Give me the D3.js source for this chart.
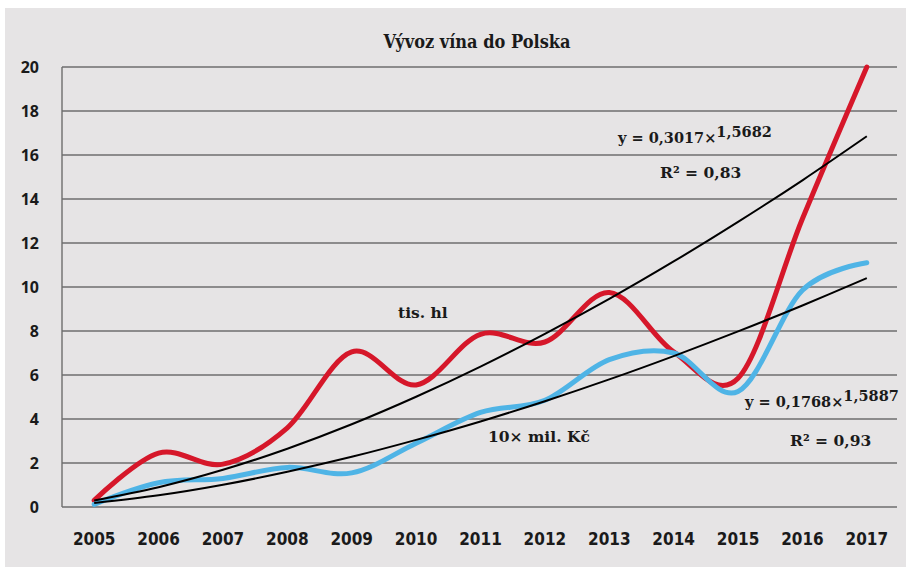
<!DOCTYPE html>
<html>
<head>
<meta charset="utf-8">
<script src="https://cdn.jsdelivr.net/npm/d3@7/dist/d3.min.js"></script>
<style>
  html, body { margin: 0; padding: 0; background: #ffffff; }
  svg { display: block; }
</style>
</head>
<body>
<svg id="chart" width="912" height="567"></svg>
<script>
// ---- data ----
const years = ["2005","2006","2007","2008","2009","2010","2011","2012","2013","2014","2015","2016","2017"];
const hlValues  = [0.3, 2.45, 1.95, 3.6, 7.05, 5.55, 7.85, 7.5, 9.75, 7.05, 5.85, 13.1, 20.0];   // tis. hl
const kcValues  = [0.12, 1.1, 1.3, 1.8, 1.55, 2.9, 4.3, 4.85, 6.7, 7.0, 5.25, 9.85, 11.1];      // 10× mil. Kč
const hlTrend   = [0.30, 0.90, 1.69, 2.65, 3.76, 5.01, 6.38, 7.87, 9.46, 11.16, 12.96, 14.85, 16.85];
const kcTrend   = [0.18, 0.53, 1.01, 1.60, 2.28, 3.05, 3.89, 4.81, 5.80, 6.86, 7.98, 9.16, 10.40];
const yTicks    = [0, 2, 4, 6, 8, 10, 12, 14, 16, 18, 20];
const title     = "Vývoz vína do Polska";

// ---- layout ----
const svg = d3.select("#chart");
const plot = { left: 62, right: 899, top: 67, bottom: 507 };

svg.append("rect").attr("x", 5).attr("y", 8).attr("width", 901).attr("height", 559)
  .attr("fill", "#e6e4e5");

const x = d3.scaleBand().domain(years).range([plot.left, plot.right]);
const y = d3.scaleLinear().domain([0, 20]).range([plot.bottom, plot.top]);
const cx = d => x(d) + x.bandwidth() / 2;

// gridlines
svg.append("g").selectAll("line").data(yTicks.filter(t => t > 0)).join("line")
  .attr("x1", plot.left).attr("x2", plot.right - 2)
  .attr("y1", d => y(d)).attr("y2", d => y(d))
  .attr("stroke", "#6e6e6e").attr("stroke-width", 1.4);

// axes lines
svg.append("line").attr("x1", plot.left).attr("x2", plot.left)
  .attr("y1", plot.top).attr("y2", plot.bottom).attr("stroke", "#6e6e6e").attr("stroke-width", 1.4);
svg.append("line").attr("x1", plot.left).attr("x2", plot.right - 2)
  .attr("y1", plot.bottom).attr("y2", plot.bottom).attr("stroke", "#6e6e6e").attr("stroke-width", 1.4);

// y tick labels
const yAxis = d3.axisLeft(y).tickValues(yTicks).tickSize(0).tickPadding(0).tickFormat(d3.format("d"));
const gy = svg.append("g").attr("transform", `translate(${39},0)`).call(yAxis);
gy.select(".domain").remove();
gy.selectAll("text")
  .attr("font-family", "'Open Sans', 'DejaVu Sans', sans-serif")
  .attr("font-weight", "bold").attr("font-size", 16).attr("fill", "#1a1a1a")
  .attr("dy", "0.35em");

// x tick labels
const xAxis = d3.axisBottom(x).tickSize(0).tickPadding(0);
const gx = svg.append("g").attr("transform", `translate(0,${533})`).call(xAxis);
gx.select(".domain").remove();
gx.selectAll("text")
  .attr("font-family", "'Liberation Sans Narrow', 'DejaVu Sans Condensed', sans-serif")
  .attr("font-stretch", "condensed")
  .attr("font-weight", "bold").attr("font-size", 17).attr("fill", "#1a1a1a")
  .attr("dy", "0.71em");

// title
svg.append("text").attr("x", 477).attr("y", 48).attr("text-anchor", "middle")
  .attr("font-family", "'DejaVu Serif Condensed', 'DejaVu Serif', serif")
  .attr("font-stretch", "condensed")
  .attr("font-weight", "bold").attr("font-size", 18).attr("fill", "#1a1a1a")
  .text(title);

// lines
const smooth = d3.line().x((d, i) => cx(years[i])).y(d => y(d)).curve(d3.curveCardinal);

svg.append("path").datum(hlValues).attr("d", smooth)
  .attr("fill", "none").attr("stroke", "#d6172a").attr("stroke-width", 5)
  .attr("stroke-linecap", "round").attr("stroke-linejoin", "round");
svg.append("path").datum(kcValues).attr("d", smooth)
  .attr("fill", "none").attr("stroke", "#4fb4e6").attr("stroke-width", 5)
  .attr("stroke-linecap", "round").attr("stroke-linejoin", "round");
svg.append("path").datum(hlTrend).attr("d", smooth)
  .attr("fill", "none").attr("stroke", "#000").attr("stroke-width", 2);
svg.append("path").datum(kcTrend).attr("d", smooth)
  .attr("fill", "none").attr("stroke", "#000").attr("stroke-width", 2);

// annotations
const annFont = "'DejaVu Serif', serif";
function eq(xp, yp, a, b) {
  const t = svg.append("text").attr("x", xp).attr("y", yp)
    .attr("font-family", annFont)
    .attr("font-weight", "bold").attr("font-size", 14.5).attr("fill", "#1a1a1a");
  t.append("tspan").text("y = " + a + "×");
  t.append("tspan").attr("dy", -6).text(b);
}
function lab(xp, yp, s) {
  svg.append("text").attr("x", xp).attr("y", yp)
    .attr("font-family", annFont)
    .attr("font-weight", "bold").attr("font-size", 15.5).attr("fill", "#1a1a1a").text(s);
}
eq(618, 143, "0,3017", "1,5682");
lab(660, 178, "R² = 0,83");
eq(745, 407, "0,1768", "1,5887");
lab(790, 446, "R² = 0,93");
lab(398, 318, "tis. hl");
lab(488, 442, "10× mil. Kč");
</script>
</body>
</html>
